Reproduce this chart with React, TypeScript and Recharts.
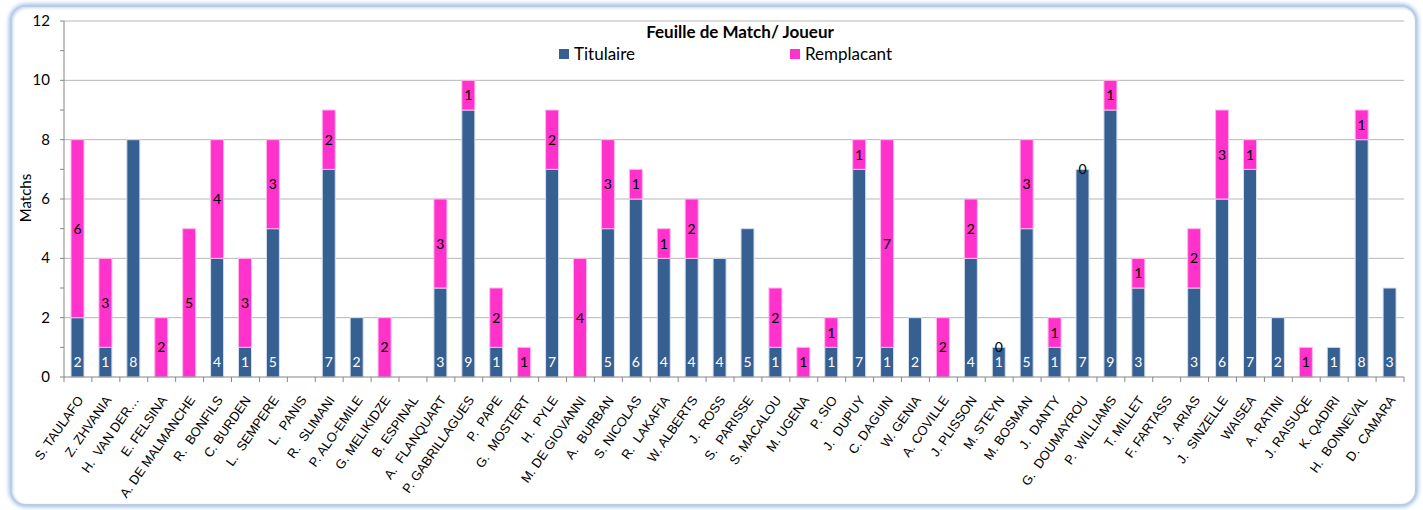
import { BarChart, Bar, XAxis, YAxis, CartesianGrid, Legend } from 'recharts';

const players = [
  'S. TAULAFO', 'Z. ZHVANIA', 'H.  VAN DER…', 'E. FELSINA', 'A. DE MALMANCHE', 'R.  BONFILS',
  'C. BURDEN', 'L.  SEMPERE', 'L.  PANIS', 'R.  SLIMANI', 'P. ALO-EMILE', 'G. MELIKIDZE',
  'B. ESPINAL', 'A.  FLANQUART', 'P. GABRILLAGUES', 'P.  PAPE', 'G.  MOSTERT', 'H.  PYLE',
  'M. DE GIOVANNI', 'A.  BURBAN', 'S. NICOLAS', 'R.  LAKAFIA', 'W. ALBERTS', 'J.  ROSS',
  'S.  PARISSE', 'S. MACALOU', 'M. UGENA', 'P. SIO', 'J.  DUPUY', 'C. DAGUIN',
  'W. GENIA', 'A. COVILLE', 'J. PLISSON', 'M. STEYN', 'M. BOSMAN', 'J.  DANTY',
  'G.  DOUMAYROU', 'P.  WILLIAMS', 'T. MILLET', 'F. FARTASS', 'J.  ARIAS', 'J.  SINZELLE',
  'WAISEA', 'A. RATINI', 'J. RAISUQE', 'K. QADIRI', 'H.  BONNEVAL', 'D.  CAMARA',
];

const titulaire = [
  2, 1, 8, null, null, 4, 1, 5, null, 7, 2, null,
  null, 3, 9, 1, null, 7, null, 5, 6, 4, 4, 4,
  5, 1, null, 1, 7, 1, 2, null, 4, 1, 5, 1,
  7, 9, 3, null, 3, 6, 7, 2, 0, 1, 8, 3,
];

const remplacant = [
  6, 3, null, 2, 5, 4, 3, 3, null, 2, null, 2,
  null, 3, 1, 2, 1, 2, 4, 3, 1, 1, 2, null,
  null, 2, 1, 1, 1, 7, null, 2, 2, 0, 3, 1,
  0, 1, 1, null, 2, 3, 1, null, 1, null, 1, null,
];

const yTicks = [0, 1, 2, 3, 4, 5, 6, 7, 8, 9, 10, 11, 12];
const gridValues = [2, 4, 6, 8, 10, 12];

const data = players.map((name, i) => ({
  name,
  titulaire: titulaire[i],
  remplacant: remplacant[i],
}));

const BLUE = '#376092';
const PINK = '#ff33cc';
const CALIBRI = 'Lato, "Open Sans", sans-serif';

const PLOT_LEFT = 64;
const PLOT_RIGHT = 1404;
const STEP = (PLOT_RIGHT - PLOT_LEFT) / players.length;

const XTick = (props: any) => {
  const { x, y, payload, index } = props;
  const half = STEP / 2;
  return (
    <g>
      <line x1={x - half} x2={x - half} y1={y} y2={y + 5} stroke="#868686" />
      {index === players.length - 1 && (
        <line x1={x + half} x2={x + half} y1={y} y2={y + 5} stroke="#868686" />
      )}
      <text
        x={0}
        y={0}
        transform={`translate(${x + 6},${y + 23}) rotate(-55)`}
        textAnchor="end"
        fontSize={13}
        fontFamily='"Liberation Sans", Arial, sans-serif'
        fill="#000"
        style={{ whiteSpace: 'pre' }}
      >
        {payload.value}
      </text>
    </g>
  );
};

const YTick = (props: any) => {
  const { x, y, payload } = props;
  if (payload.value % 2 !== 0) return null;
  return (
    <text x={x} y={y} dy={5} textAnchor="end" fontSize={15} fontFamily={CALIBRI} fill="#000">
      {payload.value}
    </text>
  );
};

// bar + its own value label, so explicit zeros still get a label
const makeShape = (key: 'titulaire' | 'remplacant', where: 'bottom' | 'center', color: string) => (props: any) => {
  const { x, y, width, height, fill, stroke, payload } = props;
  const v = payload ? payload[key] : null;
  const ty = where === 'bottom' ? y + height - 10 : y + height / 2 + 5;
  return (
    <g>
      {height > 0 && <rect x={x} y={y} width={width} height={height} fill={fill} stroke={stroke} strokeWidth={1} />}
      {v !== null && v !== undefined && (
        <text x={x + width / 2} y={ty} textAnchor="middle" fontSize={14} fontFamily={CALIBRI} fill={color}>
          {v}
        </text>
      )}
    </g>
  );
};

const ChartLegend = () => (
  <div style={{ position: 'relative', height: 45, fontFamily: CALIBRI, color: '#000' }}>
    <div style={{ position: 'absolute', left: 0, width: 1480, top: -2, textAlign: 'center', fontWeight: 'bold', fontSize: 17 }}>
      Feuille de Match/ Joueur
    </div>
    <div style={{ position: 'absolute', left: 559, top: 20, display: 'flex', alignItems: 'center', fontSize: 17 }}>
      <span style={{ width: 10, height: 10, background: BLUE, marginRight: 5, display: 'inline-block' }} />
      Titulaire
    </div>
    <div style={{ position: 'absolute', left: 790, top: 20, display: 'flex', alignItems: 'center', fontSize: 17 }}>
      <span style={{ width: 10, height: 10, background: PINK, marginRight: 5, display: 'inline-block' }} />
      Remplacant
    </div>
  </div>
);

const App = () => {
  return (
    <div style={{ position: 'absolute', left: 0, top: 0, width: 1423, height: 510, background: '#fff' }}>
      <div
        style={{
          position: 'absolute', left: 10, top: 5, width: 1403, height: 497,
          border: '2px solid #b9cde6', borderRadius: 16,
          boxShadow: '0 0 4px 1px #9fbce3, inset 1px 1px 3px #c6d7ee',
          background: '#fff',
        }}
      />
      <BarChart
        width={1423}
        height={510}
        data={data}
        margin={{ top: 21, right: 1423 - PLOT_RIGHT, bottom: 0, left: 0 }}
        barSize={13}
        style={{ position: 'absolute', left: 0, top: 0 }}
      >
        <CartesianGrid vertical={false} stroke="#b7b7b7" horizontalValues={gridValues} />
        <XAxis
          dataKey="name"
          interval={0}
          height={133}
          tickSize={0}
          tickMargin={0}
          tickLine={false}
          tick={<XTick />}
          axisLine={{ stroke: '#868686' }}
        />
        <YAxis
          width={PLOT_LEFT}
          domain={[0, 12]}
          ticks={yTicks}
          interval={0}
          tickSize={4}
          tickMargin={10}
          tick={<YTick />}
          tickLine={{ stroke: '#868686' }}
          axisLine={{ stroke: '#868686' }}
          label={{
            value: 'Matchs',
            content: () => (
              <text x={27} y={198} transform="rotate(-90 27 198)" textAnchor="middle" dominantBaseline="middle" fontSize={15} fontFamily={CALIBRI} fill="#000">
                Matchs
              </text>
            ),
          }}
        />
        <Legend
          layout="horizontal"
          verticalAlign="middle"
          align="center"
          content={<ChartLegend />}
          wrapperStyle={{ position: 'absolute', top: 23, left: 0, width: 1423, height: 45 }}
        />
        <Bar
          dataKey="titulaire"
          name="Titulaire"
          stackId="a"
          fill={BLUE}
          stroke="#d6e0ee"
          shape={makeShape('titulaire', 'bottom', '#fff')}
          isAnimationActive={false}
        />
        <Bar
          dataKey="remplacant"
          name="Remplacant"
          stackId="a"
          fill={PINK}
          stroke="#ffb8ec"
          shape={makeShape('remplacant', 'center', '#000')}
          isAnimationActive={false}
        />
      </BarChart>
    </div>
  );
};

export default App;
